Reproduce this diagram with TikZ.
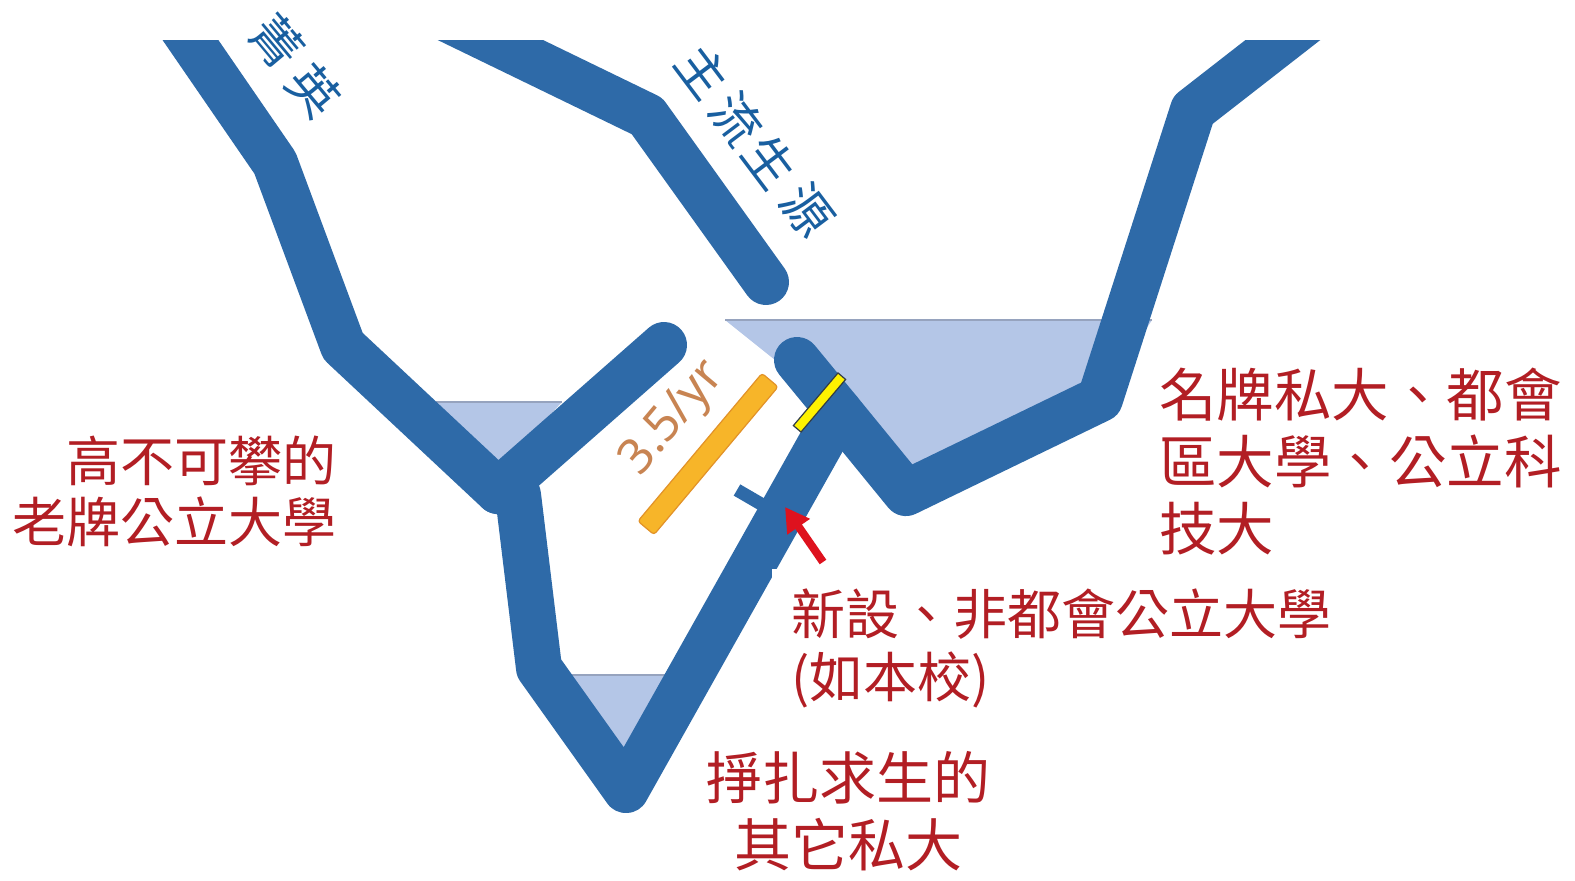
\documentclass[tikz,border=0pt]{standalone}
\usepackage{fontspec}
\setmainfont{Noto Sans CJK TC}
\newfontfamily\latinfont{Noto Sans}
\usetikzlibrary{arrows.meta}
\definecolor{chblue}{RGB}{46,106,168}
\definecolor{lblue}{RGB}{25,95,160}
\definecolor{poolc}{RGB}{180,198,231}
\definecolor{pooledge}{RGB}{150,163,190}
\definecolor{lred}{RGB}{178,30,36}
\definecolor{obarc}{RGB}{247,181,41}
\definecolor{obaredge}{RGB}{226,146,40}
\definecolor{otext}{RGB}{200,132,82}
\definecolor{ybarc}{RGB}{255,242,0}
\definecolor{ybaredge}{RGB}{50,60,70}
\definecolor{arrowred}{RGB}{222,18,30}
\begin{document}
\begin{tikzpicture}[x=1pt,y=-1pt,
  chan/.style={draw=chblue,line width=46pt,line join=round,line cap=round},
  poolfill/.style={fill=poolc},
  pooltop/.style={draw=pooledge,line width=1.2pt},
  tickbar/.style={draw=chblue,line width=13pt},
  bluelabel/.style={text=lblue,font=\fontsize{50}{50}\selectfont,inner sep=0pt},
  redlabel/.style={text=lred,inner sep=0pt},
  redarrow/.style={draw=arrowred,fill=arrowred,line width=8pt,-{Triangle[width=26pt,length=24pt]}}
]
\useasboundingbox (0,0) rectangle (1575,881);
\fill[white] (0,0) rectangle (1575,881);

% channel vertices
\coordinate (L0) at (176,19);
\coordinate (L1) at (275,163);
\coordinate (L2) at (343,346);
\coordinate (J) at (498,491);
\coordinate (J2) at (518,495);
\coordinate (S) at (539,668);
\coordinate (B) at (626,790);
\coordinate (K) at (839,411);
\coordinate (C2) at (797,360);
\coordinate (R1) at (906,493);
\coordinate (R2) at (1100,399);
\coordinate (R3) at (1193,110);
\coordinate (R4) at (1315,15);
\coordinate (T0) at (445,18);
\coordinate (M) at (647,116);
\coordinate (C1) at (766,282);
\coordinate (Cb) at (664,345);

% pools
\fill[poolfill] (725,320) -- (1152,320) -- (R2) -- (R1) -- (800,380) -- cycle;
\draw[pooltop] (725,320) -- (1152,320);
\fill[poolfill] (436,402) -- (562,402) -- (498,470) -- cycle;
\draw[pooltop] (436,402) -- (562,402);
\fill[poolfill] (566,675) -- (666,675) -- (622,765) -- cycle;
\draw[pooltop] (566,675) -- (666,675);

% channels
\begin{scope}
\clip (0,40) rectangle (1575,881);
\draw[chan] (L0) -- (L1) -- (L2) -- (J) -- (J2) -- (S) -- (B) -- (K);
\draw[chan] (Cb) -- (J);
\draw[chan] (C2) -- (K) -- (R1) -- (R2) -- (R3) -- (R4);
\draw[chan] (T0) -- (M) -- (C1);
\end{scope}

% small tick on the arm
\coordinate (tk1) at (780,515);
\coordinate (tk2) at (737,490);
\draw[tickbar] (tk1) -- (tk2);

% bars
\node[fill=obarc,draw=obaredge,line width=1.2pt,rounded corners=3pt,
      minimum width=193pt,minimum height=21pt,inner sep=0pt,rotate=50] (orangebar) at (708,454) {};
\node[fill=ybarc,draw=ybaredge,line width=1.2pt,
      minimum width=69pt,minimum height=10pt,inner sep=0pt,rotate=49.7] (yellowbar) at (819.5,402.5) {};
\node[text=otext,rotate=50,inner sep=0pt,font=\latinfont\fontsize{49}{49}\selectfont] (rate) at (674,419) {3.5/yr};

% red arrow
\coordinate (atail) at (823,562);
\coordinate (atip) at (785,507);
\draw[redarrow] (atail) -- (atip);

% blue labels
\node[bluelabel,rotate=-50] (q1) at (277,42) {菁};
\node[bluelabel,rotate=-50] (q2) at (314,90) {英};
\node[bluelabel,rotate=-53] (z1) at (703,72) {主};
\node[bluelabel,rotate=-53] (z2) at (737,119) {流};
\node[bluelabel,rotate=-53] (z3) at (770,162) {生};
\node[bluelabel,rotate=-53] (z4) at (807,210) {源};

% red labels
\node[redlabel,anchor=east,align=right,font=\fontsize{54}{61}\selectfont] (lab1) at (337,491) {高不可攀的\\老牌公立大學};
\node[redlabel,anchor=west,align=left,font=\fontsize{57.5}{67}\selectfont] (lab2) at (1159,462) {名牌私大、都會\\區大學、公立科\\技大};
\fill[white] (772,569) rectangle (1345,718);
\node[redlabel,anchor=west,align=left,font=\fontsize{54}{63}\selectfont] (lab3) at (791,648) {新設、非都會公立大學\\(如本校)};
\node[redlabel,align=center,font=\fontsize{57}{67}\selectfont] (lab4) at (848,811) {掙扎求生的\\其它私大};
\end{tikzpicture}
\end{document}
